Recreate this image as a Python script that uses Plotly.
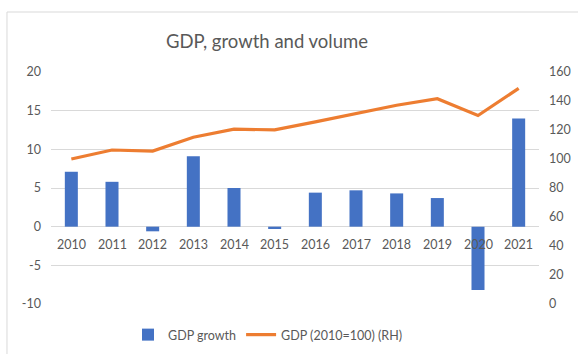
import plotly.graph_objects as go

years = ["2010", "2011", "2012", "2013", "2014", "2015", "2016", "2017", "2018", "2019", "2020", "2021"]
gdp_growth = [7.1, 5.8, -0.6, 9.1, 5.0, -0.3, 4.4, 4.7, 4.3, 3.7, -8.2, 14.0]
gdp_index = [100, 106.2, 105.5, 115, 120.6, 120.1, 125.6, 131.4, 137.1, 141.6, 130, 148.7]
left_ticks = [-10, -5, 0, 5, 10, 15, 20]
left_tick_labels = ["-10", "-5", "0", "5", "10", "15", "20"]

TXT = "#595959"
GRID = "#D9D9D9"
FONT = "Lato, 'Open Sans', sans-serif"

fig = go.Figure()
fig.add_trace(go.Bar(x=years, y=gdp_growth, name="GDP growth",
                     marker=dict(color="#4472C4", line=dict(width=0)), width=0.32))
fig.add_trace(go.Scatter(x=years, y=gdp_index, name="GDP (2010=100) (RH)", mode="lines",
                         line=dict(color="#ED7D31", width=3.2), yaxis="y2"))

# category labels sitting at the zero line (category index positions)
for i, yr in enumerate(years):
    fig.add_annotation(x=i, y=0, xref="x", yref="y", text=yr, showarrow=False,
                       yshift=-18, font=dict(size=12.5, color=TXT, family=FONT))

# outer chart border (cropped)
fig.add_shape(type="rect", xref="paper", yref="paper", x0=-0.0902, y0=-0.5, x1=1.3, y1=1.2586,
              line=dict(color=GRID, width=1), fillcolor="rgba(0,0,0,0)", layer="below")

fig.update_layout(
    width=578, height=354,
    margin=dict(l=51, r=39, t=72, b=50, autoexpand=False),
    paper_bgcolor="white", plot_bgcolor="white",
    font=dict(family=FONT, size=12.5, color=TXT),
    title=dict(text="GDP, growth and volume", x=267/578, xanchor="center", y=1-42/354,
               yanchor="middle", font=dict(size=18.5, color=TXT, family=FONT)),
    xaxis=dict(type="category", range=[-0.5, 11.5], showticklabels=False, showgrid=False,
               showline=False, zeroline=False, ticks=""),
    yaxis=dict(range=[-10, 20], tickvals=left_ticks, ticktext=left_tick_labels,
               showgrid=True, gridcolor=GRID, gridwidth=1,
               zeroline=True, zerolinecolor=GRID, zerolinewidth=1, showline=False,
               ticks="", ticklabelstandoff=9, tickfont=dict(size=12.5, color=TXT)),
    yaxis2=dict(range=[0, 160], dtick=20, overlaying="y", side="right", showgrid=False,
                zeroline=False, showline=False, ticks="", ticklabelstandoff=9,
                tickfont=dict(size=12.5, color=TXT)),
    legend=dict(orientation="h", x=(268-51)/488, xanchor="center",
                y=(304-335)/232, yanchor="middle", font=dict(size=12.5, color=TXT),
                bgcolor="rgba(0,0,0,0)"),
    bargap=0.68,
    showlegend=True,
)

fig.write_html("out.html")
